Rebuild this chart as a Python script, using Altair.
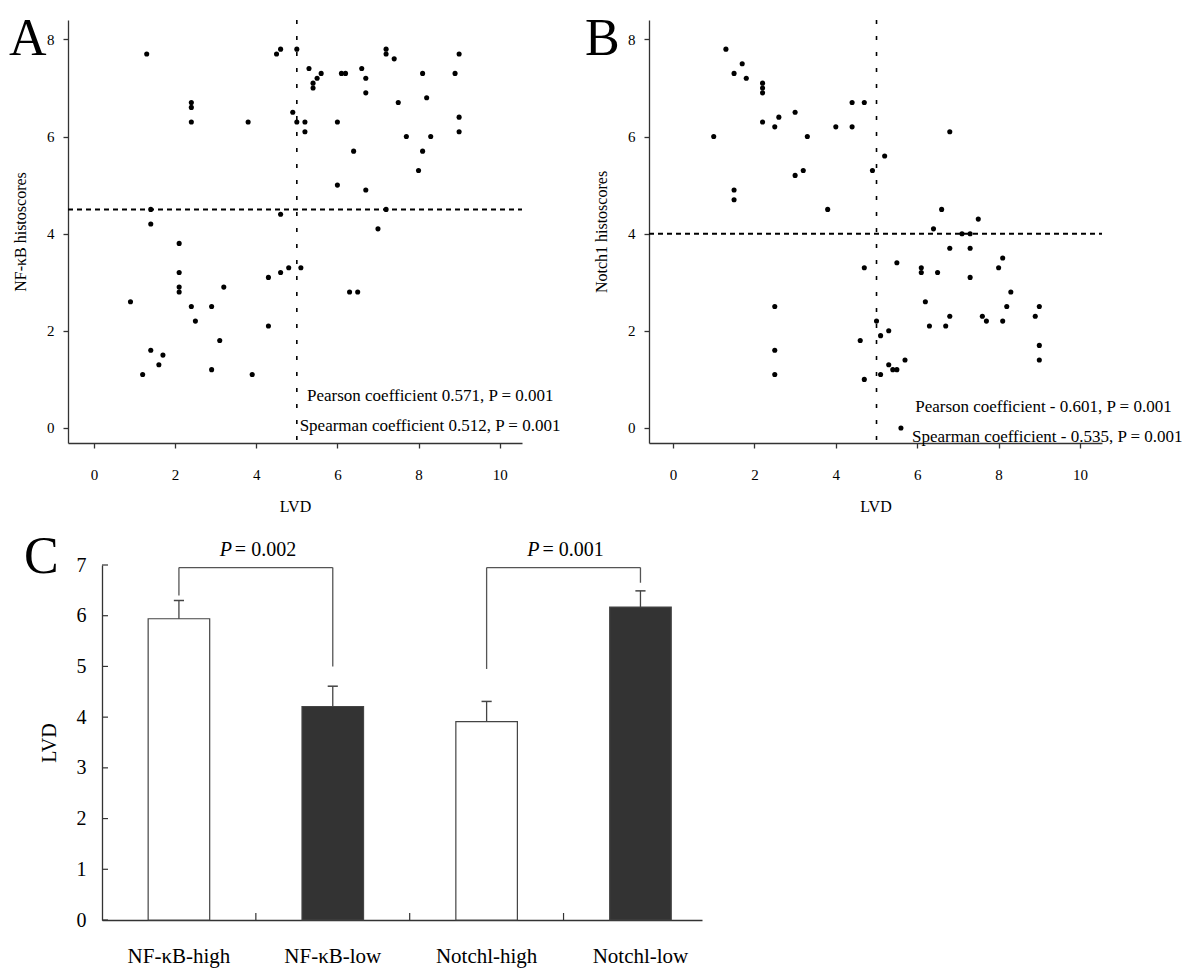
import altair as alt
import pandas as pd

FONT = "Liberation Serif"

# ---------------- Panel A: LVD vs NF-kB histoscores ----------------
a_lvd = [1.3, 2.4, 2.4, 2.4, 3.8, 4.5, 4.6, 5.0, 4.9, 5.0, 5.2, 5.2, 5.3, 5.4, 5.4, 5.5, 5.6,
         6.1, 6.2, 6.6, 6.7, 6.7, 7.2, 7.2, 7.4, 7.5, 8.1, 8.2, 8.9, 9.0, 9.0, 9.0, 6.0, 6.4,
         7.7, 8.3, 8.1, 8.0, 6.0, 6.7, 7.2, 7.0, 4.6, 1.4, 1.4, 2.1, 2.1, 2.1, 2.1, 3.2, 0.9,
         2.4, 2.9, 2.5, 3.1, 1.4, 1.7, 1.6, 1.2, 2.9, 3.9, 4.3, 4.6, 4.8, 4.3, 5.1, 6.3, 6.5]
a_nfkb = [7.7, 6.7, 6.6, 6.3, 6.3, 7.7, 7.8, 7.8, 6.5, 6.3, 6.3, 6.1, 7.4, 7.1, 7.0, 7.2, 7.3,
          7.3, 7.3, 7.4, 7.2, 6.9, 7.8, 7.7, 7.6, 6.7, 7.3, 6.8, 7.3, 7.7, 6.4, 6.1, 6.3, 5.7,
          6.0, 6.0, 5.7, 5.3, 5.0, 4.9, 4.5, 4.1, 4.4, 4.5, 4.2, 3.8, 3.2, 2.9, 2.8, 2.9, 2.6,
          2.5, 2.5, 2.2, 1.8, 1.6, 1.5, 1.3, 1.1, 1.2, 1.1, 3.1, 3.2, 3.3, 2.1, 3.3, 2.8, 2.8]
a_cut = [5, 4.5]
a_stats = ["Pearson coefficient 0.571, P = 0.001", "Spearman coefficient 0.512, P = 0.001"]
a_stats_x = [5.25, 5.07]
a_stats_y = [0.66, 0.04]

# ---------------- Panel B: LVD vs Notch1 histoscores ----------------
b_lvd = [1.3, 1.7, 1.5, 1.8, 2.2, 2.2, 2.2, 2.2, 2.6, 2.5, 3.0, 3.3, 1.0, 3.0, 3.2, 1.5, 1.5,
         3.8, 4.0, 4.4, 4.7, 4.4, 4.9, 6.8, 5.2, 6.6, 7.5, 6.4, 7.1, 7.3, 6.8, 7.3, 5.5, 6.1,
         6.1, 6.5, 7.3, 8.0, 8.1, 8.3, 6.2, 8.2, 9.0, 8.9, 6.8, 7.6, 7.7, 8.1, 6.3, 6.7, 9.0,
         9.0, 5.0, 5.1, 5.3, 4.7, 5.1, 5.3, 5.4, 5.5, 5.7, 5.6, 4.7, 2.5, 2.5, 2.5, 4.6]
b_notch = [7.8, 7.5, 7.3, 7.2, 7.1, 7.0, 6.9, 6.3, 6.4, 6.2, 6.5, 6.0, 6.0, 5.2, 5.3, 4.9, 4.7,
           4.5, 6.2, 6.7, 6.7, 6.2, 5.3, 6.1, 5.6, 4.5, 4.3, 4.1, 4.0, 4.0, 3.7, 3.7, 3.4, 3.3,
           3.2, 3.2, 3.1, 3.3, 3.5, 2.8, 2.6, 2.5, 2.5, 2.3, 2.3, 2.3, 2.2, 2.2, 2.1, 2.1, 1.7,
           1.4, 2.2, 1.9, 2.0, 3.3, 1.1, 1.3, 1.2, 1.2, 1.4, 0.0, 1.0, 2.5, 1.6, 1.1, 1.8]
b_cut = [5, 4]
b_stats = ["Pearson coefficient - 0.601, P = 0.001", "Spearman coefficient - 0.535, P = 0.001"]
b_stats_x = [5.95, 5.87]
b_stats_y = [0.43, -0.19]

# ---------------- Panel C: LVD by expression group ----------------
groups = ["NF-\u03baB-high", "NF-\u03baB-low", "Notchl-high", "Notchl-low"]
means = [5.94, 4.21, 3.91, 6.17]
errs = [0.36, 0.40, 0.40, 0.32]
fills = ["white", "#333333", "white", "#333333"]

br_left = [0, 2]
br_right = [1, 3]
br_left_bottom = [6.4, 4.95]
br_right_bottom = [5.0, 6.65]
br_top = [6.95, 6.95]
br_p = ["0.002", "0.001"]

letters = ["A", "B", "C"]

AXIS_COLOR = "#333333"


def scatter_panel(xs, ys, cut, stats, sx, sy, ytitle, letter, W, H, xdom, ydom, letter_dx):
    pts = pd.DataFrame({"x": xs, "y": ys})
    xenc = alt.X("x:Q", scale=alt.Scale(domain=xdom, nice=False, zero=False),
                 axis=alt.Axis(values=[0, 2, 4, 6, 8, 10], title="LVD", tickSize=5,
                               labelPadding=19, titlePadding=16, labelFontSize=15,
                               titleFontSize=16))
    yenc = alt.Y("y:Q", scale=alt.Scale(domain=ydom, nice=False, zero=False),
                 axis=alt.Axis(values=[0, 2, 4, 6, 8], title=ytitle, tickSize=5,
                               labelPadding=9, titlePadding=18, labelFontSize=15,
                               titleFontSize=16))
    points = alt.Chart(pts).mark_circle(size=26, color="black", opacity=1).encode(x=xenc, y=yenc)

    cut_df = pd.DataFrame({"cx": [cut[0]], "cy": [cut[1]]})
    vline = alt.Chart(cut_df).mark_rule(color="black", strokeWidth=1.6, strokeDash=[4, 12]).encode(
        x="cx:Q", y=alt.value(0), y2=alt.value(H))
    hline = alt.Chart(cut_df).mark_rule(color="black", strokeWidth=2, strokeDash=[5, 4]).encode(
        y="cy:Q", x=alt.value(0), x2=alt.value(W))

    st = pd.DataFrame({"t": stats, "tx": sx, "ty": sy})
    stats_txt = alt.Chart(st).mark_text(align="left", baseline="middle", font=FONT,
                                        fontSize=17, color="black").encode(
        x="tx:Q", y="ty:Q", text="t:N")

    lt = alt.Chart(pd.DataFrame({"l": [letter]})).mark_text(
        align="left", baseline="alphabetic", font=FONT, fontSize=52, color="black").encode(
        x=alt.value(letter_dx), y=alt.value(35), text="l:N")

    return alt.layer(vline, hline, points, stats_txt, lt).properties(width=W, height=H)


A = scatter_panel(a_lvd, a_nfkb, a_cut, a_stats, a_stats_x, a_stats_y,
                  "NF-\u03baB histoscores", letters[0], 454, 423,
                  [-0.64, 10.55], [-0.31, 8.4], -59)
B = scatter_panel(b_lvd, b_notch, b_cut, b_stats, b_stats_x, b_stats_y,
                  "Notch1 histoscores", letters[1], 453, 423,
                  [-0.59, 10.54], [-0.31, 8.4], -64)

# ---- Panel C ----
WC, HC = 600, 355
bars_df = pd.DataFrame({"group": groups, "mean": means, "err": errs, "fill": fills,
                        "idx": list(range(len(groups)))})
xsc = alt.Scale(domain=[0, 3.9], nice=False, zero=False)
ysc = alt.Scale(domain=[0, 7], nice=False)

base = alt.Chart(bars_df).transform_calculate(
    center="datum.idx + 0.5", lo="datum.idx + 0.3", hi="datum.idx + 0.7", base0="0",
    upper="datum.mean + datum.err", clo="datum.idx + 0.467", chi="datum.idx + 0.533")

bars = base.mark_bar(stroke="#444444", strokeWidth=1.2).encode(
    x=alt.X("lo:Q", scale=xsc, axis=alt.Axis(labels=False, ticks=False, title=None)),
    x2="hi:Q",
    y=alt.Y("mean:Q", scale=ysc,
            axis=alt.Axis(values=list(range(8)), ticks=False, labelPadding=16,
                          labelFontSize=20, title="LVD", titleFontSize=20, titlePadding=17)),
    y2="base0:Q",
    fill=alt.Fill("fill:N", scale=None))
err_v = base.mark_rule(color="#444444", strokeWidth=1.3).encode(
    x="center:Q", y="mean:Q", y2="upper:Q")
err_cap = base.mark_rule(color="#444444", strokeWidth=1.5).encode(
    x="clo:Q", x2="chi:Q", y="upper:Q")
cat_labels = base.mark_text(font=FONT, fontSize=21, baseline="middle", color="black").encode(
    x="center:Q", y=alt.value(HC + 37), text="group:N")

ytick_df = pd.DataFrame({"v": list(range(8))})
yticks = alt.Chart(ytick_df).mark_rule(color=AXIS_COLOR, strokeWidth=1.2).encode(
    y=alt.Y("v:Q", scale=ysc), x=alt.value(0), x2=alt.value(6))
xtick_df = pd.DataFrame({"v": list(range(1, len(groups)))})
xticks = alt.Chart(xtick_df).mark_rule(color=AXIS_COLOR, strokeWidth=1.2).encode(
    x=alt.X("v:Q", scale=xsc), y=alt.value(HC), y2=alt.value(HC - 7))

br_df = pd.DataFrame({"l": br_left, "r": br_right, "lb": br_left_bottom,
                      "rb": br_right_bottom, "top": br_top, "p": br_p})
brb = alt.Chart(br_df).transform_calculate(
    lx="datum.l + 0.5", rx="datum.r + 0.5", mx="(datum.l + datum.r) / 2 + 0.5",
    ptxt="'= ' + datum.p", py="datum.top + 0.35")
br_lv = brb.mark_rule(color="#555555", strokeWidth=1.3).encode(x="lx:Q", y="lb:Q", y2="top:Q")
br_rv = brb.mark_rule(color="#555555", strokeWidth=1.3).encode(x="rx:Q", y="rb:Q", y2="top:Q")
br_h = brb.mark_rule(color="#555555", strokeWidth=1.3).encode(x="lx:Q", x2="rx:Q", y="top:Q")
p_it = brb.mark_text(font=FONT, fontSize=20, fontStyle="italic", align="right",
                     baseline="middle", dx=-24, color="black").encode(
    x="mx:Q", y="py:Q", text=alt.value("P"))
p_rest = brb.mark_text(font=FONT, fontSize=20, align="left", baseline="middle",
                       dx=-21, color="black").encode(x="mx:Q", y="py:Q", text="ptxt:N")

lc = alt.Chart(pd.DataFrame({"l": [letters[2]]})).mark_text(
    align="left", baseline="alphabetic", font=FONT, fontSize=52, color="black").encode(
    x=alt.value(-78), y=alt.value(8), text="l:N")

C = alt.layer(bars, err_v, err_cap, yticks, xticks, br_lv, br_rv, br_h, p_it, p_rest,
              cat_labels, lc).properties(width=WC, height=HC)

spacer = alt.Chart(pd.DataFrame({"v": [0]})).mark_point(opacity=0).encode(
    x=alt.X("v:Q", axis=None), y=alt.Y("v:Q", axis=None)).properties(width=1, height=HC)

top = alt.hconcat(A, B, spacing=127, bounds="flush")
bottom = alt.hconcat(spacer, C, spacing=33, bounds="flush")

# with flush bounds nested concat groups count as zero-size, so the spacing is
# measured from the top of the first row's plot area
chart = alt.vconcat(top, bottom, spacing=545, bounds="flush").properties(
    padding={"left": 0, "top": 4, "right": 5, "bottom": 5}
).configure_view(stroke="transparent").configure_axis(
    grid=False, labelFont=FONT, titleFont=FONT, labelColor="black", titleColor="black",
    titleFontWeight="normal", domainColor=AXIS_COLOR, tickColor=AXIS_COLOR,
    domainWidth=1.3, tickWidth=1.3
)

chart.save("out.html", embed_options={"renderer": "svg", "actions": False})
